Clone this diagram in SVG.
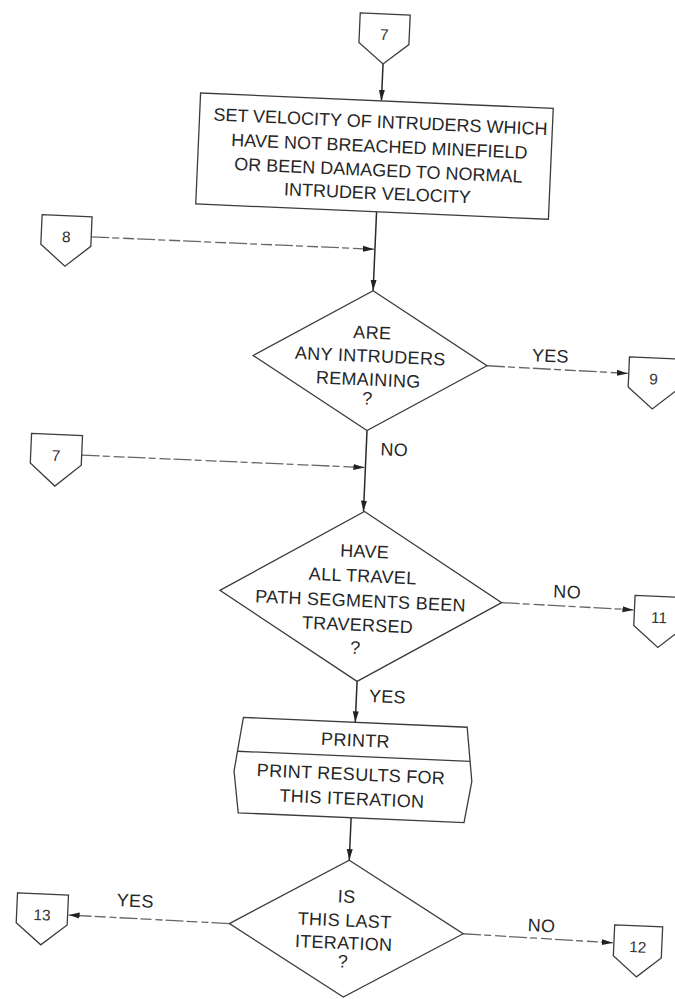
<svg xmlns="http://www.w3.org/2000/svg" width="675" height="999" viewBox="0 0 675 999">
  <style>
    .t { font-family: "Liberation Sans", Arial, sans-serif; font-size: 18px; fill: #262626; text-anchor: middle; letter-spacing: 0.3px; }
    .b { letter-spacing: 0; }
    .n { font-family: "Liberation Sans", Arial, sans-serif; font-size: 15.5px; fill: #333; text-anchor: middle; }
    .shape { fill: #fff; stroke: #3c3c3c; stroke-width: 1.3; stroke-linejoin: miter; }
    .v { fill: none; stroke: #2a2a2a; stroke-width: 1.5; }
    .h { fill: none; stroke: #666; stroke-width: 1.3; stroke-dasharray: 18 3 7 4 11 3; }
  </style>
  <defs>
    <marker id="ah" markerUnits="userSpaceOnUse" markerWidth="12" markerHeight="7" refX="11" refY="3.5" orient="auto">
      <path d="M0,0.5 L11,3.5 L0,6.5 z" fill="#222"/>
    </marker>
  </defs>
  <rect width="675" height="999" fill="#fff"/>

  <!-- whole chart is drawn upright, then turned slightly as printed -->
  <g transform="rotate(2.5 375 500)">

    <g id="connectors">
      <!-- main vertical flow -->
      <line class="v" x1="364" y1="64" x2="364" y2="101" marker-end="url(#ah)"/>
      <line class="v" x1="364" y1="212" x2="364" y2="291" marker-end="url(#ah)"/>
      <line class="v" x1="364" y1="431" x2="364" y2="512" marker-end="url(#ah)"/>
      <line class="v" x1="365" y1="682" x2="365" y2="723" marker-end="url(#ah)"/>
      <line class="v" x1="365" y1="818.5" x2="365" y2="861" marker-end="url(#ah)"/>
      <!-- side entries -->
      <line class="h" x1="80" y1="249.5" x2="363" y2="249.5" marker-end="url(#ah)"/>
      <line class="h" x1="80" y1="468" x2="363" y2="468" marker-end="url(#ah)"/>
      <!-- decision exits -->
      <line class="h" x1="481" y1="361" x2="622" y2="362.5" marker-end="url(#ah)"/>
      <line class="h" x1="506" y1="597" x2="638" y2="598.5" marker-end="url(#ah)"/>
      <line class="h" x1="248" y1="929.5" x2="87" y2="928" marker-end="url(#ah)"/>
      <line class="h" x1="482" y1="929.5" x2="632" y2="932" marker-end="url(#ah)"/>
      <!-- branch labels -->
      <text class="t" x="544" y="354.5">YES</text>
      <text class="t" x="392" y="455">NO</text>
      <text class="t" x="571" y="589.5">NO</text>
      <text class="t" x="396" y="702">YES</text>
      <text class="t" x="153" y="917">YES</text>
      <text class="t" x="560" y="924">NO</text>
    </g>

    <g id="conn-7-top">
      <polygon class="shape" points="339,14 389,14 389,43.5 364,64 339,43.5"/>
      <text class="n" x="364" y="40">7</text>
    </g>

    <g id="set-velocity">
      <rect class="shape" x="183" y="101" width="353" height="111"/>
      <text class="t b" x="364" y="128">SET VELOCITY OF INTRUDERS WHICH</text>
      <text class="t b" x="364" y="152.5">HAVE NOT BREACHED MINEFIELD</text>
      <text class="t b" x="364" y="176.5">OR BEEN DAMAGED TO NORMAL</text>
      <text class="t b" x="364" y="199.5">INTRUDER VELOCITY</text>
    </g>

    <g id="conn-8">
      <polygon class="shape" points="30,229.5 80,229.5 80,259 55,280 30,259"/>
      <text class="n" x="55" y="256">8</text>
    </g>

    <g id="any-remaining">
      <polygon class="shape" points="364,291 481,361 364,431 247,361"/>
      <text class="t" x="365" y="339">ARE</text>
      <text class="t" x="364" y="362.5">ANY INTRUDERS</text>
      <text class="t" x="363" y="386">REMAINING</text>
      <text class="t" x="363" y="405">?</text>
    </g>

    <g id="conn-9">
      <polygon class="shape" points="623,346 673,346 673,376 648,397 623,376"/>
      <text class="n" x="648" y="372.5">9</text>
    </g>

    <g id="conn-7-mid">
      <polygon class="shape" points="29,448.5 80,448.5 80,478 54.5,500 29,478"/>
      <text class="n" x="54.5" y="475">7</text>
    </g>

    <g id="segments-traversed">
      <polygon class="shape" points="365,512 506,597 365,682 224,597"/>
      <text class="t" x="367" y="558">HAVE</text>
      <text class="t" x="366" y="582.5">ALL TRAVEL</text>
      <text class="t" x="365" y="607.5">PATH SEGMENTS BEEN</text>
      <text class="t" x="363" y="631.5">TRAVERSED</text>
      <text class="t" x="362" y="654.5">?</text>
    </g>

    <g id="conn-11">
      <polygon class="shape" points="639,584 689,584 689,614 664,635 639,614"/>
      <text class="n" x="664" y="610.5">11</text>
    </g>

    <g id="printr">
      <polygon class="shape" points="253,723 477,723 484,777 478,818.5 252,818.5 246,777"/>
      <line class="shape" x1="248.6" y1="757" x2="481.4" y2="757"/>
      <text class="t" x="366" y="747">PRINTR</text>
      <text class="t" x="363" y="781">PRINT RESULTS FOR</text>
      <text class="t" x="365" y="805.5">THIS ITERATION</text>
    </g>

    <g id="last-iteration">
      <polygon class="shape" points="365,861 482,929.5 365,998 248,929.5"/>
      <text class="t" x="364" y="903.5">IS</text>
      <text class="t" x="363" y="927.5">THIS LAST</text>
      <text class="t" x="363" y="950">ITERATION</text>
      <text class="t" x="363" y="968.5">?</text>
    </g>

    <g id="conn-13">
      <polygon class="shape" points="35,908 86,908 86,938 60.5,959 35,938"/>
      <text class="n" x="60.5" y="934.5">13</text>
    </g>

    <g id="conn-12">
      <polygon class="shape" points="633,914 681,914 681,945 657,965 633,945"/>
      <text class="n" x="657" y="940.5">12</text>
    </g>

  </g>
</svg>
